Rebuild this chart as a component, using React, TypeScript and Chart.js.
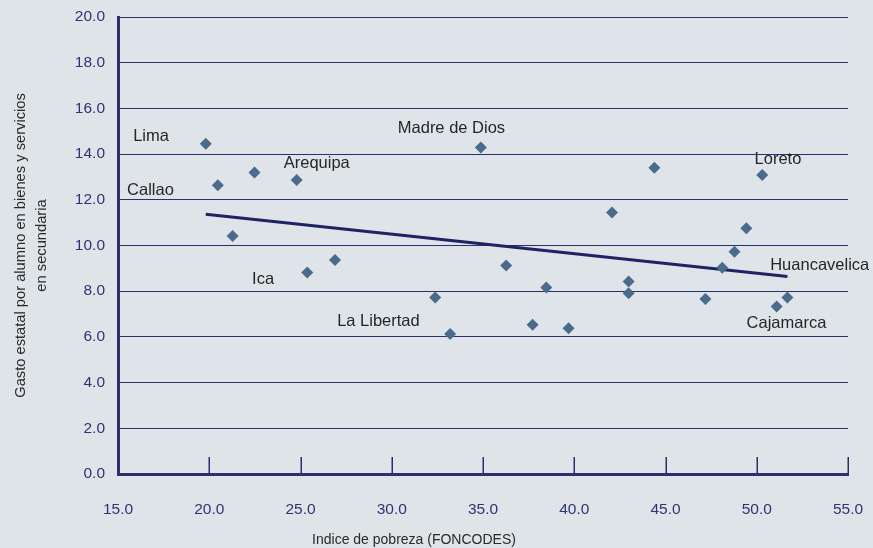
import React, { useEffect, useRef } from "react";
import { Chart, registerables } from "chart.js";

Chart.register(...registerables);

// Scatter points: poverty index (x) vs state spending per student (y)
const pointX = [19.81, 20.47, 22.48, 21.28, 24.79, 25.37, 26.89, 32.38, 33.2, 34.88, 36.27, 37.72, 38.47, 39.69, 42.07, 42.98, 42.98, 44.39, 47.19, 48.11, 48.78, 49.43, 50.3, 51.09, 51.68];
const pointY = [14.45, 12.64, 13.19, 10.42, 12.87, 8.82, 9.37, 7.72, 6.13, 14.29, 9.12, 6.53, 8.16, 6.38, 11.44, 8.42, 7.91, 13.4, 7.66, 9.03, 9.73, 10.76, 13.09, 7.33, 7.72];

// Trend line end points
const trendX = [19.81, 51.68];
const trendY = [11.37, 8.64];

// Region labels and their anchor positions (data coordinates)
const labelNames = ["Lima", "Callao", "Arequipa", "Madre de Dios", "Ica", "La Libertad", "Loreto", "Huancavelica", "Cajamarca"];
const labelX = [16.81, 16.78, 25.89, 33.27, 22.95, 29.27, 51.16, 53.45, 51.63];
const labelY = [14.79, 12.39, 13.58, 15.13, 8.53, 6.67, 13.75, 9.12, 6.6];

const yTitle = ["Gasto estatal por alumno en bienes y servicios", "en secundaria"];
const xTitle = "Indice de pobreza (FONCODES)";

const BG = "#dfe4e9";
const NAVY = "#2b2f6c";
const TICK_COLOR = "#2e3473";
const SANS = "'Liberation Sans', Arial, sans-serif";

export default function App() {
  const ref = useRef<HTMLCanvasElement | null>(null);

  useEffect(() => {
    document.body.style.margin = "0";
    const canvas = ref.current;
    if (!canvas) return;

    const bgPlugin = {
      id: "bg",
      beforeDraw(chart: any) {
        const ctx = chart.ctx;
        ctx.save();
        ctx.fillStyle = BG;
        ctx.fillRect(0, 0, chart.width, chart.height);
        ctx.restore();
      },
    };

    const extrasPlugin = {
      id: "extras",
      afterDraw(chart: any) {
        const ctx = chart.ctx;
        const xs = chart.scales.x;
        const ys = chart.scales.y;
        const area = chart.chartArea;
        ctx.save();
        // inward tick marks on x axis
        ctx.strokeStyle = NAVY;
        ctx.lineWidth = 1.5;
        xs.ticks.forEach((t: any) => {
          const px = Math.round(xs.getPixelForValue(t.value)) + 0.25;
          ctx.beginPath();
          ctx.moveTo(px, area.bottom);
          ctx.lineTo(px, area.bottom - 17);
          ctx.stroke();
        });
        // region labels
        ctx.fillStyle = "#262626";
        ctx.font = "16.5px " + SANS;
        ctx.textAlign = "center";
        ctx.textBaseline = "middle";
        labelNames.forEach((name, i) => {
          ctx.fillText(name, xs.getPixelForValue(labelX[i]), ys.getPixelForValue(labelY[i]));
        });
        // x axis title
        ctx.fillStyle = "#2a2a2a";
        ctx.font = "14px " + SANS;
        ctx.fillText(xTitle, 414, 540);
        ctx.restore();
      },
    };

    const chart = new Chart(canvas, {
      type: "scatter",
      data: {
        datasets: [
          {
            label: "Regiones",
            data: pointX.map((x, i) => ({ x, y: pointY[i] })),
            pointStyle: "rectRot",
            pointRadius: 6,
            pointHoverRadius: 6,
            backgroundColor: "#4a6b8c",
            borderColor: "#4a6b8c",
            pointBorderWidth: 0,
            order: 0,
          },
          {
            type: "line",
            label: "Tendencia",
            data: trendX.map((x, i) => ({ x, y: trendY[i] })),
            borderColor: "#1f2264",
            borderWidth: 3,
            pointRadius: 0,
            showLine: true,
            fill: false,
            order: 1,
          } as any,
        ],
      },
      options: {
        animation: false,
        responsive: false,
        devicePixelRatio: 1,
        layout: { padding: { top: 17, right: 25, left: 0, bottom: 0 } },
        plugins: {
          legend: { display: false },
          tooltip: { enabled: false },
        },
        scales: {
          x: {
            type: "linear",
            min: 15,
            max: 55,
            afterFit(scale: any) {
              scale.height = 74;
              scale.paddingLeft = 0;
              scale.paddingRight = 0;
            },
            ticks: {
              stepSize: 5,
              padding: 26,
              color: TICK_COLOR,
              font: { family: SANS, size: 15.5 },
              callback: (v: any) => Number(v).toFixed(1),
            },
            grid: { display: true, drawOnChartArea: false, drawTicks: false },
            border: { display: true, color: NAVY, width: 3 },
          },
          y: {
            type: "linear",
            min: 0,
            max: 20,
            afterFit(scale: any) {
              scale.width = 118;
              scale.paddingTop = 0;
              scale.paddingBottom = 0;
            },
            ticks: {
              stepSize: 2,
              padding: 13,
              color: TICK_COLOR,
              font: { family: SANS, size: 15.5 },
              callback: (v: any) => Number(v).toFixed(1),
            },
            grid: { color: NAVY, lineWidth: 1, drawTicks: false },
            border: { display: true, color: NAVY, width: 3 },
            title: {
              display: true,
              text: yTitle,
              color: "#2a2a2a",
              font: { family: SANS, size: 14.7, lineHeight: "21px" } as any,
              padding: { top: 10, bottom: 0 },
            },
          },
        },
      },
      plugins: [bgPlugin, extrasPlugin],
    });

    return () => chart.destroy();
  }, []);

  return (
    <div style={{ width: 873, height: 548 }}>
      <canvas ref={ref} width={873} height={548} style={{ display: "block" }} />
    </div>
  );
}
